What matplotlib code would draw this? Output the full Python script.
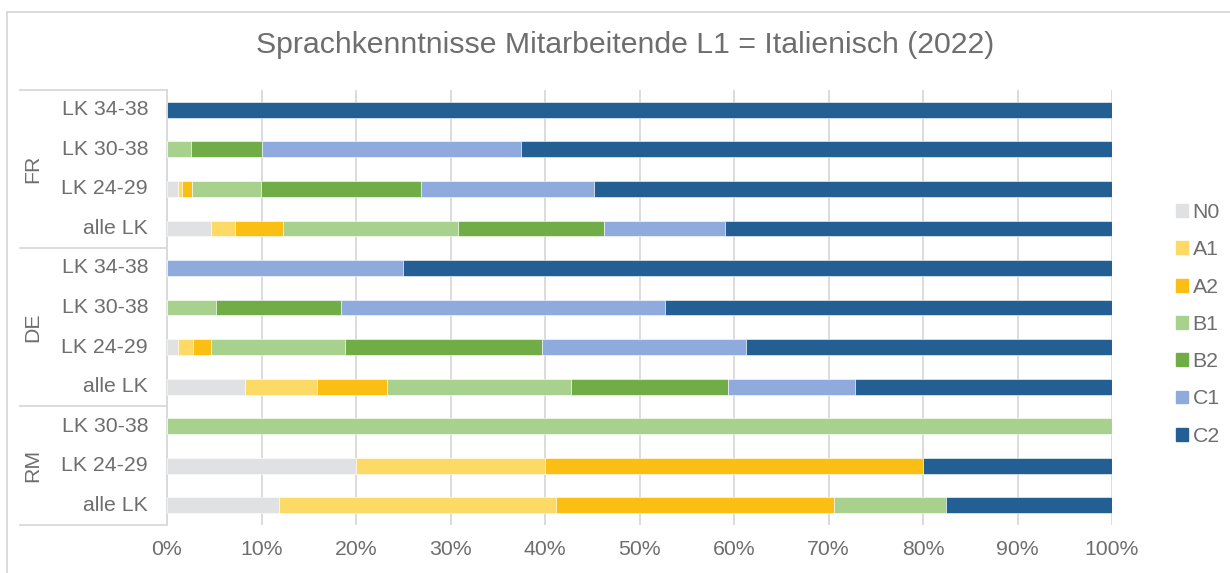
import matplotlib
matplotlib.use('Agg')
import matplotlib.pyplot as plt
from matplotlib.lines import Line2D

plt.rcParams['font.family'] = ['Liberation Sans', 'DejaVu Sans']

# rows from top to bottom
rowLabels = ["LK 34-38", "LK 30-38", "LK 24-29", "alle LK",
             "LK 34-38", "LK 30-38", "LK 24-29", "alle LK",
             "LK 30-38", "LK 24-29", "alle LK"]
groups = ["FR", "DE", "RM"]
groupSizes = [4, 4, 3]

levels = ["N0", "A1", "A2", "B1", "B2", "C1", "C2"]
colors = ["#e0e1e3", "#fdd966", "#fbbf14", "#a9d18e", "#70ad47", "#8faadc", "#235f92"]

# percentages per level, one value per row
N0 = [0, 0, 1.2, 4.7, 0, 0, 1.2, 8.3, 0, 20, 11.8]
A1 = [0, 0, 0.4, 2.5, 0, 0, 1.6, 7.6, 0, 20, 29.4]
A2 = [0, 0, 1.0, 5.1, 0, 0, 1.9, 7.4, 0, 40, 29.4]
B1 = [0, 2.5, 7.3, 18.5, 0, 5.2, 14.1, 19.5, 100, 0, 11.8]
B2 = [0, 7.5, 17.0, 15.4, 0, 13.2, 20.9, 16.6, 0, 0, 0]
C1 = [0, 27.5, 18.3, 12.8, 25, 34.3, 21.6, 13.4, 0, 0, 0]
C2 = [100, 62.5, 54.8, 41.0, 75, 47.3, 38.7, 27.2, 0, 20, 17.6]
series = [N0, A1, A2, B1, B2, C1, C2]

textColor = '#6e6e6e'
gridColor = '#d9d9d9'
fs = 15.3

W, H = 1230, 573
fig = plt.figure(figsize=(W/100, H/100), dpi=100)
ax = fig.add_axes([167/W, 1 - 525/H, (1112-167)/W, (525-90)/H])

ypos = list(range(len(rowLabels)))
left = [0] * len(rowLabels)
handles = []
for name, vals, col in zip(levels, series, colors):
    ax.barh(ypos, vals, left=left, height=0.4, color=col,
            edgecolor='white', linewidth=0.4, zorder=3)
    left = [l + v for l, v in zip(left, vals)]
    handles.append(plt.Rectangle((0, 0), 1, 1, color=col))

ax.set_xlim(0, 100)
ax.set_ylim(len(rowLabels) - 0.5, -0.5)
ax.set_xticks(range(0, 101, 10))
ax.set_xticklabels(["%d%%" % v for v in range(0, 101, 10)])
ax.set_yticks([])
ax.tick_params(axis='x', length=0, labelsize=fs, colors=textColor, pad=11)
ax.grid(axis='x', color=gridColor, linewidth=1.3, zorder=0)
for s in ['top', 'right', 'bottom']:
    ax.spines[s].set_visible(False)
ax.spines['left'].set_color(gridColor)
ax.spines['left'].set_linewidth(1.3)

# row labels
for i, lab in enumerate(rowLabels):
    ax.text(-2.0, i, lab, ha='right', va='center', fontsize=fs,
            color=textColor, transform=ax.transData, clip_on=False)

# group labels and separators
trans = ax.get_yaxis_transform()
xline0 = (20 - 167) / (1112 - 167)
start = -0.5
ax.add_line(Line2D([xline0, 0], [start, start], transform=trans,
                   color=gridColor, linewidth=1.3, clip_on=False))
for g, n in zip(groups, groupSizes):
    end = start + n
    ax.add_line(Line2D([xline0, 0], [end, end], transform=trans,
                       color=gridColor, linewidth=1.3, clip_on=False))
    ax.text((33 - 167) / (1112 - 167), (start + end) / 2, g, rotation=90,
            ha='center', va='center', fontsize=fs, color=textColor,
            transform=trans, clip_on=False)
    start = end

fig.text(0.5 * (257 + 993) / W, 1 - 45 / H,
         "Sprachkenntnisse Mitarbeitende L1 = Italienisch (2022)",
         ha='center', va='center', fontsize=21.8, color=textColor)

leg = fig.legend(handles, levels, loc='upper left',
                 bbox_to_anchor=(1157 / W, 1 - 184 / H), frameon=False,
                 fontsize=fs, labelcolor=textColor, handlelength=0.55,
                 handleheight=0.55, handletextpad=0.22, labelspacing=0.86)

# chart border (left and top)
fig.add_artist(Line2D([7 / W, 7 / W], [0, 1 - 12 / H], color=gridColor, linewidth=1.3))
fig.add_artist(Line2D([7 / W, 1], [1 - 12 / H, 1 - 12 / H], color=gridColor, linewidth=1.3))

fig.savefig('out.png', dpi=100)
